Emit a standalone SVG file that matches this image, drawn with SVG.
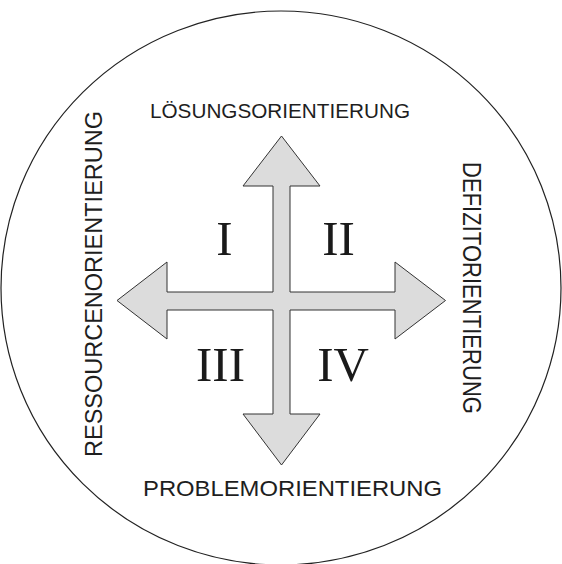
<svg xmlns="http://www.w3.org/2000/svg" width="562" height="564" viewBox="0 0 562 564">
<style>
.lbl{font-family:"Liberation Sans",Arial,sans-serif;fill:#1e1e1e;}
.num{font-family:"Liberation Serif","Times New Roman",serif;fill:#1a1a1a;font-size:49px;text-anchor:middle;}
.cross{fill:#dcdcdc;stroke:#333;stroke-width:1;stroke-linejoin:miter;}
</style>
<rect width="562" height="564" fill="#fff"/>
<g id="circle">
<ellipse cx="281" cy="288" rx="280" ry="277" fill="none" stroke="#222" stroke-width="1.2"/>
</g>
<g id="connectors">
<path class="cross" d="M281.5,136 L320,186 L290,186 L290,292 L395,292 L395,262 L445.5,300.5 L395,339 L395,310 L290,310 L290,414 L320,414 L281.5,465 L243,414 L273,414 L273,310 L167,310 L167,339 L117,300.5 L167,262 L167,292 L273,292 L273,186 L243,186 Z"/>
</g>
<g id="top-label"><text class="lbl" x="150" y="118" font-size="21" textLength="260" lengthAdjust="spacingAndGlyphs">LÖSUNGSORIENTIERUNG</text></g>
<g id="bottom-label"><text class="lbl" x="143" y="496" font-size="22.5" textLength="299" lengthAdjust="spacingAndGlyphs">PROBLEMORIENTIERUNG</text></g>
<g id="left-label"><text class="lbl" transform="translate(102,457) rotate(-90)" x="0" y="0" font-size="24.5" textLength="346" lengthAdjust="spacingAndGlyphs">RESSOURCENORIENTIERUNG</text></g>
<g id="right-label"><text class="lbl" transform="translate(463,162) rotate(90)" x="0" y="0" font-size="25" textLength="252" lengthAdjust="spacingAndGlyphs">DEFIZITORIENTIERUNG</text></g>
<g id="q1"><text class="num" x="224.5" y="255">I</text></g>
<g id="q2"><text class="num" x="338.5" y="255">II</text></g>
<g id="q3"><text class="num" x="220.5" y="381">III</text></g>
<g id="q4"><text class="num" x="343" y="381">IV</text></g>
</svg>
